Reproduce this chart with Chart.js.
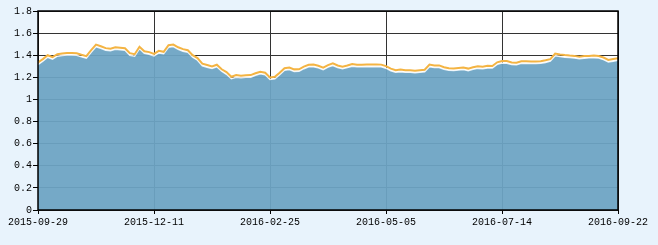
<!DOCTYPE html>
<html>
<head>
<meta charset="utf-8">
<script src="https://cdn.jsdelivr.net/npm/chart.js@4/dist/chart.umd.min.js"></script>
<style>
	html, body { margin: 0; padding: 0; background: #e8f3fc; }
	canvas { display: block; }
</style>
</head>
<body>
<canvas id="navChart" width="658" height="245"></canvas>
<script>
// tick labels shown under the x axis (one every 24 points)
const xTickLabels = ["2015-09-29", "2015-12-11", "2016-02-25", "2016-05-05", "2016-07-14", "2016-09-22"];

// unit net value (blue area)
const unitNav = [
	1.316, 1.346, 1.382, 1.364, 1.391, 1.397, 1.403, 1.402, 1.400, 1.385,
	1.373, 1.427, 1.477, 1.463, 1.445, 1.440, 1.454, 1.450, 1.445, 1.400,
	1.391, 1.459, 1.418, 1.409, 1.394, 1.421, 1.413, 1.472, 1.478, 1.454,
	1.436, 1.427, 1.382, 1.355, 1.305, 1.292, 1.280, 1.296, 1.255, 1.228,
	1.187, 1.201, 1.196, 1.201, 1.201, 1.219, 1.232, 1.224, 1.180, 1.187,
	1.224, 1.264, 1.271, 1.253, 1.255, 1.278, 1.296, 1.296, 1.287, 1.269,
	1.292, 1.307, 1.289, 1.277, 1.289, 1.301, 1.296, 1.295, 1.299, 1.296,
	1.299, 1.296, 1.283, 1.260, 1.246, 1.251, 1.246, 1.246, 1.242, 1.246,
	1.251, 1.296, 1.289, 1.289, 1.273, 1.263, 1.262, 1.266, 1.271, 1.260,
	1.273, 1.281, 1.278, 1.285, 1.285, 1.317, 1.330, 1.328, 1.317, 1.313,
	1.328, 1.326, 1.325, 1.325, 1.328, 1.335, 1.346, 1.396, 1.388, 1.382,
	1.379, 1.375, 1.369, 1.373, 1.376, 1.378, 1.375, 1.360, 1.339, 1.346,
	1.355
];

// accumulated net value (orange line)
const accumNav = [
	1.334, 1.365, 1.400, 1.383, 1.409, 1.416, 1.421, 1.420, 1.418, 1.404,
	1.392, 1.446, 1.496, 1.481, 1.464, 1.458, 1.472, 1.468, 1.463, 1.419,
	1.409, 1.477, 1.436, 1.428, 1.412, 1.440, 1.431, 1.490, 1.496, 1.472,
	1.455, 1.445, 1.400, 1.374, 1.323, 1.311, 1.298, 1.314, 1.273, 1.247,
	1.205, 1.220, 1.214, 1.219, 1.220, 1.237, 1.251, 1.242, 1.199, 1.205,
	1.242, 1.283, 1.289, 1.272, 1.273, 1.297, 1.314, 1.315, 1.305, 1.288,
	1.310, 1.326, 1.307, 1.296, 1.307, 1.320, 1.314, 1.314, 1.317, 1.315,
	1.317, 1.315, 1.301, 1.279, 1.264, 1.270, 1.264, 1.265, 1.260, 1.265,
	1.269, 1.315, 1.307, 1.308, 1.291, 1.282, 1.280, 1.285, 1.289, 1.279,
	1.291, 1.300, 1.296, 1.304, 1.303, 1.336, 1.348, 1.347, 1.335, 1.332,
	1.346, 1.345, 1.343, 1.344, 1.346, 1.354, 1.364, 1.415, 1.406, 1.401,
	1.397, 1.394, 1.387, 1.392, 1.394, 1.397, 1.393, 1.379, 1.357, 1.365,
	1.373
];

const tickFont = { family: "'Liberation Mono', 'DejaVu Sans Mono', monospace", size: 10 };

const backdrop = {
	id: "backdrop",
	beforeDraw(chart) {
		const { ctx, chartArea: a } = chart;
		ctx.save();
		ctx.fillStyle = "#e8f3fc";
		ctx.fillRect(0, 0, chart.width, chart.height);
		ctx.fillStyle = "#ffffff";
		ctx.fillRect(a.left, a.top, a.right - a.left, a.bottom - a.top);
		ctx.restore();
	},
	afterDatasetsDraw(chart) {
		const { ctx, chartArea: a } = chart;
		ctx.save();
		ctx.strokeStyle = "#000";
		ctx.lineWidth = 1.5;
		ctx.strokeRect(a.left, a.top, a.right - a.left, a.bottom - a.top);
		ctx.restore();
	},
};

new Chart(document.getElementById("navChart"), {
	type: "line",
	data: {
		datasets: [
			{
				data: accumNav.map((v, i) => ({ x: i, y: v })),
				borderColor: "#f4b443",
				borderWidth: 2,
				pointRadius: 0,
				fill: false,
			},
			{
				data: unitNav.map((v, i) => ({ x: i, y: v })),
				borderColor: "rgba(255,255,255,0.85)",
				borderWidth: 1.5,
				backgroundColor: "rgba(108,164,196,0.94)",
				pointRadius: 0,
				fill: "origin",
			},
		],
	},
	options: {
		responsive: false,
		animation: false,
		layout: { padding: { top: 11, right: 40, left: 0, bottom: 0 } },
		plugins: {
			legend: { display: false },
			tooltip: { enabled: false },
		},
		scales: {
			x: {
				type: "linear",
				min: 0,
				max: unitNav.length - 1,
				afterFit(scale) { scale.height = 35; },
				border: { display: false },
				grid: { color: "#333", tickColor: "#000", tickLength: 4 },
				ticks: {
					stepSize: 24,
					autoSkip: false,
					maxRotation: 0,
					padding: 2,
					color: "#000",
					font: tickFont,
					callback: (v) => xTickLabels[v / 24],
				},
			},
			y: {
				min: 0,
				max: 1.8,
				afterFit(scale) { scale.width = 38; },
				border: { display: false },
				grid: { color: "#333", tickColor: "#000", tickLength: 5 },
				ticks: {
					stepSize: 0.2,
					padding: 1,
					color: "#000",
					font: tickFont,
					callback: (v) => String(+v.toFixed(1)),
				},
			},
		},
	},
	plugins: [backdrop],
});
</script>
</body>
</html>
